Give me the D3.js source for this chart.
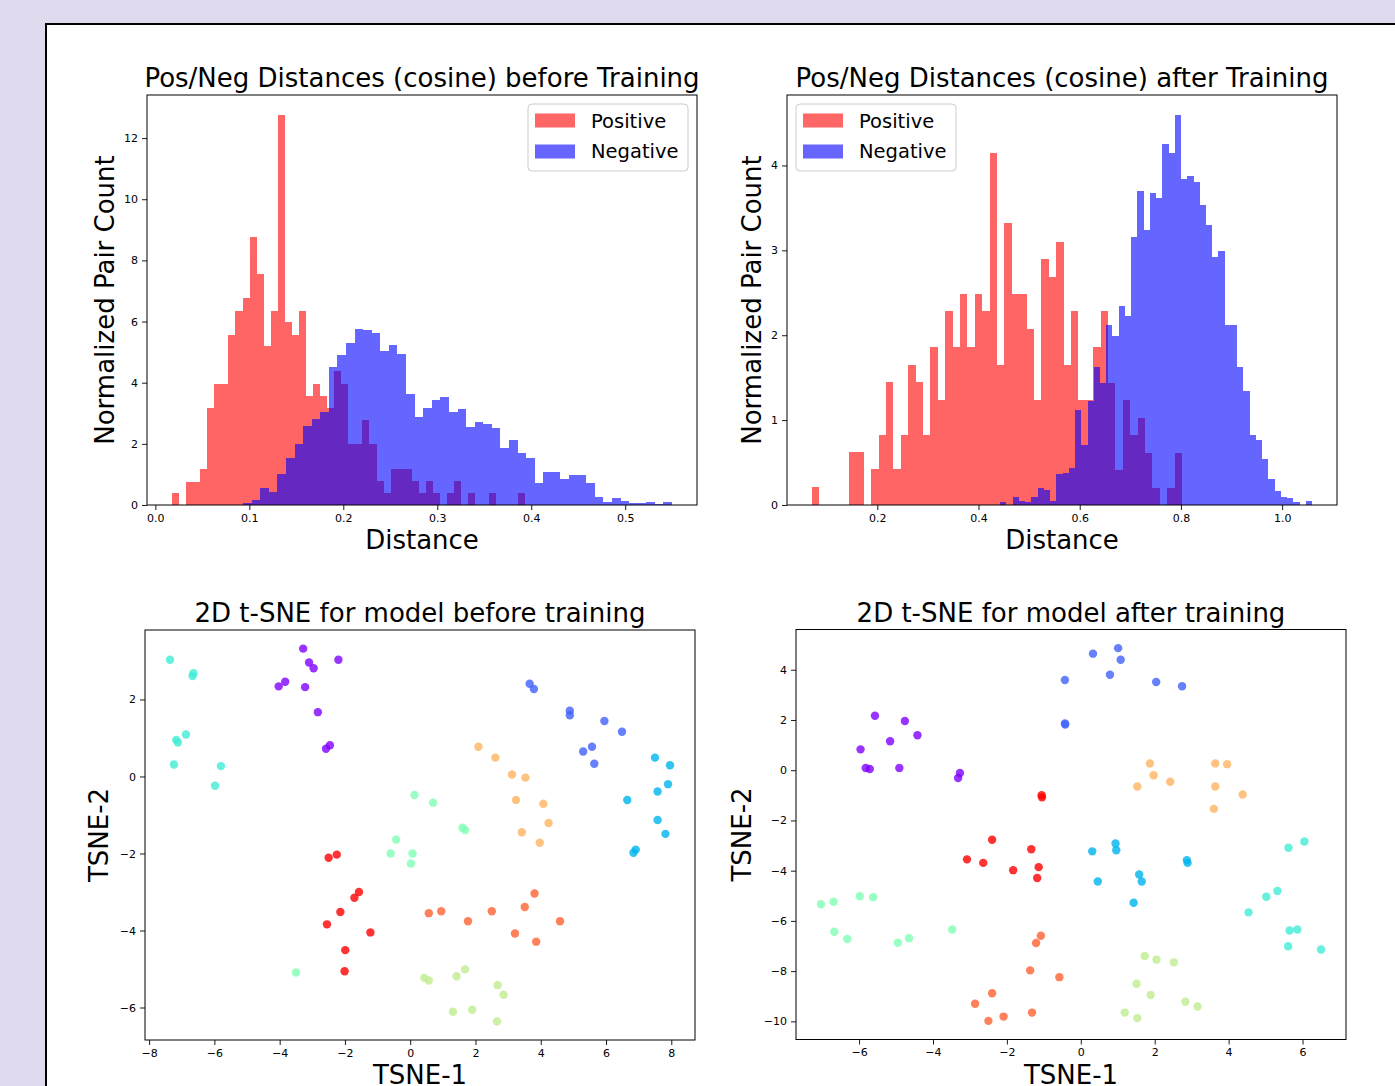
<!DOCTYPE html>
<html>
<head>
<meta charset="utf-8">
<script src="https://cdn.jsdelivr.net/npm/d3@7"></script>
<style>
  body { margin: 0; background: #e1d9ed; }
  svg { display: block; font-family: "DejaVu Sans", sans-serif; }
</style>
</head>
<body>
<div id="plot"></div>
<script>
// ---- histogram data (normalized density per bin, 50 equal bins over each range) ----
const posBefore = [0.38, 0, 0.76, 0.76, 1.17, 3.18, 3.97, 3.97, 5.56, 6.36,
  6.78, 8.78, 7.56, 5.19, 6.36, 12.77, 5.99, 5.56, 6.36, 3.58,
  3.97, 3.58, 3.18, 4.38, 3.97, 2.0, 2.0, 2.78, 2.0, 0.78,
  0.4, 1.17, 1.17, 1.17, 0.78, 0.4, 0.78, 0.4, 0, 0.4,
  0.78, 0, 0.4, 0, 0, 0.4, 0, 0, 0, 0.4];
const posBeforeRange = [0.0177, 0.393];

const negBefore = [0.07, 0.15, 0.57, 0.42, 1.0, 1.55, 2.0, 2.58, 2.8, 3.04,
  4.5, 4.89, 5.29, 5.76, 5.73, 5.61, 5.05, 5.22, 4.95, 3.62,
  2.88, 3.18, 3.42, 3.53, 3.04, 3.13, 2.55, 2.71, 2.66, 2.51,
  1.87, 2.11, 1.69, 1.53, 0.71, 1.08, 1.08, 0.86, 0.97, 0.97,
  0.71, 0.27, 0.11, 0.22, 0.13, 0.07, 0.07, 0.1, 0.03, 0.1];
const negBeforeRange = [0.0933, 0.5498];

const posAfter = [0.21, 0, 0, 0, 0, 0.62, 0.62, 0, 0.42, 0.83,
  1.45, 0.42, 0.83, 1.65, 1.45, 0.83, 1.86, 1.24, 2.28, 1.86,
  2.48, 1.86, 2.48, 2.28, 4.15, 1.65, 3.32, 2.48, 2.48, 2.07,
  1.24, 2.9, 2.69, 3.1, 1.65, 2.28, 1.24, 1.24, 1.86, 2.28,
  1.44, 0.41, 1.24, 0.82, 1.03, 0.61, 0.2, 0, 0.2, 0.61];
const posAfterRange = [0.071, 0.802];

const negAfter = [0.03, 0, 0.09, 0.05, 0.03, 0.09, 0.2, 0.18, 0.05, 0.36,
  0.38, 0.44, 1.12, 0.71, 1.22, 1.63, 1.44, 2.12, 1.99, 2.34,
  2.23, 3.16, 3.70, 3.24, 3.67, 3.62, 4.25, 4.15, 4.6, 3.84,
  3.87, 3.81, 3.54, 3.30, 2.92, 2.99, 2.12, 2.12, 1.63, 1.34,
  0.82, 0.77, 0.54, 0.31, 0.17, 0.1, 0.08, 0.03, 0, 0.05];
const negAfterRange = [0.443, 1.059];

const histBeforeXTicks = [0.0, 0.1, 0.2, 0.3, 0.4, 0.5];
const histBeforeYTicks = [0, 2, 4, 6, 8, 10, 12];
const histAfterXTicks = [0.2, 0.4, 0.6, 0.8, 1.0];
const histAfterYTicks = [0, 1, 2, 3, 4];

// ---- t-SNE points, one list per class (0..8) ----
const tsneBefore = [
  [[-3.28, 3.32], [-2.20, 3.03], [-3.10, 2.96], [-2.96, 2.81], [-3.83, 2.46], [-4.03, 2.34], [-3.22, 2.32], [-2.83, 1.67], [-2.46, 0.81], [-2.58, 0.72]],
  [[3.66, 2.41], [3.79, 2.27], [4.89, 1.71], [4.89, 1.59], [5.95, 1.44], [6.49, 1.16], [5.57, 0.77], [5.30, 0.65], [5.64, 0.33]],
  [[7.50, 0.49], [7.96, 0.29], [7.90, -0.20], [7.58, -0.39], [6.65, -0.61], [7.58, -1.13], [7.82, -1.49], [6.91, -1.90], [6.84, -1.98]],
  [[-7.36, 3.03], [-6.64, 2.68], [-6.67, 2.61], [-6.87, 1.09], [-7.17, 0.95], [-7.12, 0.88], [-7.24, 0.31], [-5.80, 0.27], [-5.98, -0.24]],
  [[0.13, -0.48], [-0.43, -1.64], [-0.60, -2.0], [0.07, -2.0], [0.02, -2.26], [-3.50, -5.09], [0.70, -0.68], [1.60, -1.33], [1.68, -1.39]],
  [[0.43, -5.23], [0.57, -5.30], [1.42, -5.19], [1.68, -5.01], [2.68, -5.42], [2.86, -5.67], [1.31, -6.11], [1.90, -6.06], [2.66, -6.36]],
  [[2.09, 0.77], [2.61, 0.49], [3.12, 0.05], [3.53, -0.03], [3.24, -0.61], [4.08, -0.71], [4.24, -1.21], [3.42, -1.45], [3.97, -1.72]],
  [[0.57, -3.55], [0.95, -3.50], [1.77, -3.76], [2.50, -3.50], [3.81, -3.04], [3.51, -3.39], [4.59, -3.76], [3.21, -4.08], [3.86, -4.29]],
  [[-2.50, -2.11], [-2.25, -2.03], [-1.57, -3.0], [-1.71, -3.15], [-2.14, -3.52], [-2.55, -3.84], [-1.22, -4.05], [-1.99, -4.51], [-2.01, -5.06]]
];
const tsneAfter = [
  [[-5.57, 2.17], [-4.76, 1.96], [-4.42, 1.39], [-5.16, 1.15], [-5.96, 0.83], [-5.82, 0.09], [-5.71, 0.05], [-4.91, 0.09], [-3.27, -0.11], [-3.32, -0.31]],
  [[-0.43, 3.59], [-0.43, 1.86], [-0.42, 1.82], [0.33, 4.64], [1.01, 4.86], [1.08, 4.40], [0.79, 3.80], [2.04, 3.51], [2.74, 3.34]],
  [[0.94, -2.92], [0.96, -3.19], [0.31, -3.23], [2.87, -3.58], [2.89, -3.69], [1.58, -4.15], [1.65, -4.43], [0.46, -4.43], [1.43, -5.28]],
  [[6.05, -2.84], [5.62, -3.09], [5.32, -4.81], [5.02, -5.04], [4.54, -5.66], [5.65, -6.38], [5.86, -6.34], [5.61, -7.01], [6.50, -7.14]],
  [[-7.03, -5.34], [-6.69, -5.24], [-5.98, -5.02], [-5.62, -5.06], [-6.67, -6.43], [-6.32, -6.72], [-4.95, -6.87], [-4.65, -6.69], [-3.48, -6.34]],
  [[1.73, -7.40], [2.05, -7.54], [2.52, -7.65], [1.51, -8.50], [1.89, -8.95], [2.83, -9.22], [3.16, -9.41], [1.19, -9.65], [1.53, -9.87]],
  [[1.87, 0.27], [1.97, -0.20], [1.53, -0.65], [2.42, -0.46], [3.64, 0.27], [3.96, 0.24], [3.64, -0.65], [4.38, -0.97], [3.60, -1.54]],
  [[-1.08, -6.59], [-1.21, -6.88], [-1.37, -7.97], [-0.58, -8.24], [-2.40, -8.88], [-2.86, -9.30], [-2.09, -9.81], [-2.50, -9.98], [-1.32, -9.65]],
  [[-1.06, -1.0], [-1.05, -1.08], [-2.40, -2.77], [-1.34, -3.15], [-3.08, -3.55], [-2.64, -3.69], [-1.83, -3.98], [-1.14, -3.86], [-1.18, -4.29]]
];
const tsneBeforeXTicks = [-8, -6, -4, -2, 0, 2, 4, 6, 8];
const tsneBeforeYTicks = [-6, -4, -2, 0, 2];
const tsneAfterXTicks = [-6, -4, -2, 0, 2, 4, 6];
const tsneAfterYTicks = [-10, -8, -6, -4, -2, 0, 2, 4];

// rainbow colormap sampled at i/8
const classColors = ["#8000ff", "#4062fa", "#00b4ec", "#40ecd4", "#80ffb4",
  "#bfec8e", "#ffb462", "#ff6232", "#ff0000"];

const w = 1395, h = 1086;
const axW = 550, axH = 410;

const svg = d3.select("#plot").append("svg")
  .attr("width", w).attr("height", h);

svg.append("rect").attr("width", w).attr("height", h).attr("fill", "#e1d9ed");
// figure canvas (runs off the bottom/right)
svg.append("rect")
  .attr("x", 46).attr("y", 24).attr("width", 1400).attr("height", 1100)
  .attr("fill", "white").attr("stroke", "black").attr("stroke-width", 2);

const minus = s => s.replace("-", "\u2212");

function makeAxes(left, top, xScale, yScale, xTicks, yTicks, fmt, o) {
  const g = svg.append("g").attr("transform", `translate(${left},${top})`);
  const body = g.append("g");

  const xa = g.append("g").attr("transform", `translate(0,${axH})`)
    .call(d3.axisBottom(xScale).tickValues(xTicks).tickSize(5).tickPadding(4)
      .tickFormat(d => minus(fmt(d))));
  const ya = g.append("g")
    .call(d3.axisLeft(yScale).tickValues(yTicks).tickSize(5).tickPadding(4)
      .tickFormat(d => minus(d3.format("d")(d))));
  [xa, ya].forEach(a => {
    a.select(".domain").remove();
    a.selectAll("text").attr("font-size", 11).attr("fill", "#000")
      .attr("font-family", '"DejaVu Sans", sans-serif');
    a.selectAll("line").attr("stroke", "#000").attr("stroke-width", 0.9);
  });

  g.append("rect").attr("width", axW).attr("height", axH)
    .attr("fill", "none").attr("stroke", "#000").attr("stroke-width", 1);

  g.append("text").attr("x", axW / 2).attr("y", -8)
    .attr("text-anchor", "middle").attr("font-size", 26).text(o.title);
  g.append("text").attr("x", axW / 2).attr("y", axH + 44)
    .attr("text-anchor", "middle").attr("font-size", 26).text(o.xlabel);
  g.append("text")
    .attr("transform", `translate(${-o.ylabelOff},${axH / 2}) rotate(-90)`)
    .attr("text-anchor", "middle").attr("font-size", 26).text(o.ylabel);
  return body;
}

function histPanel(left, top, pos, posRange, neg, negRange, xTicks, yTicks, o) {
  const lo = Math.min(posRange[0], negRange[0]);
  const hi = Math.max(posRange[1], negRange[1]);
  const pad = (hi - lo) * 0.05;
  const x = d3.scaleLinear().domain([lo - pad, hi + pad]).range([0, axW]);
  const y = d3.scaleLinear()
    .domain([0, d3.max(pos.concat(neg)) * 1.05]).range([axH, 0]);

  const body = makeAxes(left, top, x, y, xTicks, yTicks, d3.format(".1f"), o);

  [[pos, posRange, "#ff0000"], [neg, negRange, "#0000ff"]].forEach(([vals, r, col]) => {
    const bw = (r[1] - r[0]) / vals.length;
    body.append("g").attr("opacity", 0.6)
      .selectAll("rect").data(vals).join("rect")
      .attr("x", (d, i) => x(r[0] + i * bw))
      .attr("width", (d, i) => x(r[0] + (i + 1) * bw) - x(r[0] + i * bw))
      .attr("y", d => y(d))
      .attr("height", d => y(0) - y(d))
      .attr("fill", col)
      .attr("shape-rendering", "crispEdges");
  });

  // legend
  const lg = body.append("g").attr("transform", `translate(${o.legendX},9)`);
  lg.append("rect").attr("width", 160).attr("height", 67).attr("rx", 4)
    .attr("fill", "white").attr("fill-opacity", 0.8)
    .attr("stroke", "#cccccc").attr("stroke-width", 1);
  [["Positive", "#ff0000"], ["Negative", "#0000ff"]].forEach(([lab, col], i) => {
    lg.append("rect").attr("x", 7).attr("y", 9.5 + i * 31)
      .attr("width", 40).attr("height", 14)
      .attr("fill", col).attr("fill-opacity", 0.6);
    lg.append("text").attr("x", 63).attr("y", 23.5 + i * 30)
      .attr("font-size", 19.5).text(lab);
  });
}

function tsnePanel(left, top, groups, xTicks, yTicks, o) {
  const pts = groups.flat();
  const xe = d3.extent(pts, d => d[0]), ye = d3.extent(pts, d => d[1]);
  const px = (xe[1] - xe[0]) * 0.05, py = (ye[1] - ye[0]) * 0.05;
  const x = d3.scaleLinear().domain([xe[0] - px, xe[1] + px]).range([0, axW]);
  const y = d3.scaleLinear().domain([ye[0] - py, ye[1] + py]).range([axH, 0]);

  const body = makeAxes(left, top, x, y, xTicks, yTicks, d3.format("d"), o);

  groups.forEach((grp, ci) => {
    body.append("g").selectAll("circle").data(grp).join("circle")
      .attr("cx", d => x(d[0]))
      .attr("cy", d => y(d[1]))
      .attr("r", 4.2)
      .attr("fill", classColors[ci])
      .attr("fill-opacity", 0.8);
  });
}

histPanel(147, 95, posBefore, posBeforeRange, negBefore, negBeforeRange,
  histBeforeXTicks, histBeforeYTicks, {
    title: "Pos/Neg Distances (cosine) before Training",
    xlabel: "Distance", ylabel: "Normalized Pair Count",
    ylabelOff: 33, legendX: 381
  });

histPanel(787, 95, posAfter, posAfterRange, negAfter, negAfterRange,
  histAfterXTicks, histAfterYTicks, {
    title: "Pos/Neg Distances (cosine) after Training",
    xlabel: "Distance", ylabel: "Normalized Pair Count",
    ylabelOff: 26, legendX: 9
  });

tsnePanel(145, 630, tsneBefore, tsneBeforeXTicks, tsneBeforeYTicks, {
  title: "2D t-SNE for model before training",
  xlabel: "TSNE-1", ylabel: "TSNE-2", ylabelOff: 37
});

tsnePanel(796, 629.5, tsneAfter, tsneAfterXTicks, tsneAfterYTicks, {
  title: "2D t-SNE for model after training",
  xlabel: "TSNE-1", ylabel: "TSNE-2", ylabelOff: 45
});
</script>
</body>
</html>
